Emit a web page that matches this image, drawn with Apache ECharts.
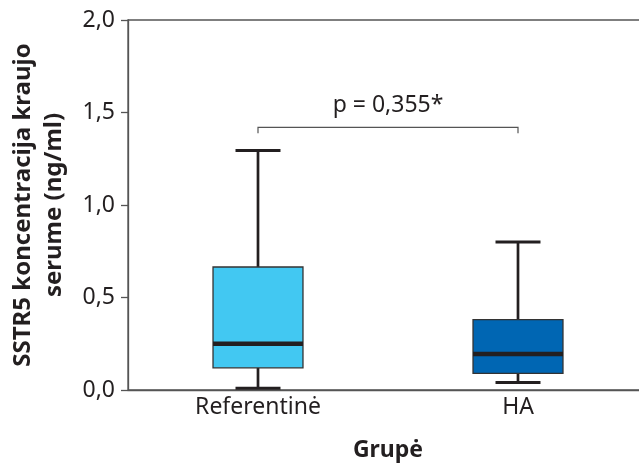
<!DOCTYPE html>
<html>
<head>
<meta charset="utf-8">
<script src="https://cdn.jsdelivr.net/npm/echarts@6/dist/echarts.min.js"></script>
<style>
html,body{margin:0;padding:0;background:#fff;}
#chart{width:639px;height:464px;}
</style>
</head>
<body>
<div id="chart"></div>
<script>
// ---- data ----
const categories = ['Referentinė', 'HA'];
const minVals    = [0.01, 0.04];
const q1Vals     = [0.12, 0.09];
const medianVals = [0.25, 0.195];
const q3Vals     = [0.665, 0.38];
const maxVals    = [1.295, 0.80];
const boxColors  = ['#42C8F2', '#0066B3'];
const yTicks     = [0, 0.5, 1.0, 1.5, 2.0];
const bracketLevel = 1.42;
const pLabel = 'p = 0,355*';

const FONT = '"Noto Sans", "Open Sans", sans-serif';
const TXT = '#231f20';
const AX = '#555555';

const boxData = categories.map((c, i) => [i, minVals[i], q1Vals[i], medianVals[i], q3Vals[i], maxVals[i]]);

function renderBox(params, api) {
  const i = api.value(0);
  const band = api.size([1, 0])[0];
  const cx = api.coord([i, 0])[0];
  const yMin = api.coord([i, api.value(1)])[1];
  const yQ1 = api.coord([i, api.value(2)])[1];
  const yMed = api.coord([i, api.value(3)])[1];
  const yQ3 = api.coord([i, api.value(4)])[1];
  const yMax = api.coord([i, api.value(5)])[1];
  const bw = band * 0.346;
  const cw = band * 0.173;
  const lineStyle = { stroke: TXT, lineWidth: 2.7 };
  return {
    type: 'group',
    children: [
      { type: 'line', shape: { x1: cx, y1: yQ3, x2: cx, y2: yMax }, style: lineStyle },
      { type: 'line', shape: { x1: cx, y1: yQ1, x2: cx, y2: yMin }, style: lineStyle },
      { type: 'line', shape: { x1: cx - cw / 2, y1: yMax, x2: cx + cw / 2, y2: yMax }, style: { stroke: TXT, lineWidth: 3 } },
      { type: 'line', shape: { x1: cx - cw / 2, y1: yMin, x2: cx + cw / 2, y2: yMin }, style: { stroke: TXT, lineWidth: 3 } },
      { type: 'rect', shape: { x: cx - bw / 2, y: yQ3, width: bw, height: yQ1 - yQ3 },
        style: { fill: boxColors[i], stroke: '#333333', lineWidth: 1.3 } },
      { type: 'line', shape: { x1: cx - bw / 2, y1: yMed, x2: cx + bw / 2, y2: yMed }, style: { stroke: TXT, lineWidth: 4.5 } }
    ]
  };
}

function renderBracket(params, api) {
  const p0 = api.coord([api.value(0), api.value(2)]);
  const p1 = api.coord([api.value(1), api.value(2)]);
  const tick = 6;
  const st = { stroke: AX, lineWidth: 1.2, fill: null };
  return {
    type: 'group',
    children: [
      { type: 'polyline', shape: { points: [[p0[0], p0[1] + tick], [p0[0], p0[1]], [p1[0], p1[1]], [p1[0], p1[1] + tick]] }, style: st },
      { type: 'text', x: (p0[0] + p1[0]) / 2, y: p0[1] - 22,
        style: { text: pLabel, fill: TXT, font: '23px ' + FONT, align: 'center', verticalAlign: 'middle' } }
    ]
  };
}

const chart = echarts.init(document.getElementById('chart'), null, { renderer: 'canvas' });
chart.setOption({
  animation: false,
  backgroundColor: '#ffffff',
  grid: { left: 128, top: 20, width: 520, height: 370, outerBoundsMode: 'none', containLabel: false,
    show: true, borderColor: AX, borderWidth: 1.3, backgroundColor: 'transparent' },
  xAxis: {
    type: 'category',
    data: categories,
    name: 'Grupė',
    nameLocation: 'middle',
    nameGap: 49,
    nameTextStyle: { fontFamily: FONT, fontSize: 23, fontWeight: 'bold', color: TXT },
    axisLine: { lineStyle: { color: AX, width: 1.3 } },
    axisTick: { length: 7, lineStyle: { color: AX, width: 1.3 } },
    axisLabel: { fontFamily: FONT, fontSize: 23, color: TXT, margin: 6 },
    splitLine: { show: false }
  },
  yAxis: {
    type: 'value',
    min: yTicks[0],
    max: yTicks[yTicks.length - 1],
    interval: 0.5,
    name: 'SSTR5 koncentracija kraujo\nserume (ng/ml)',
    nameLocation: 'middle',
    nameRotate: 90,
    nameGap: 58,
    nameTextStyle: { fontFamily: FONT, fontSize: 24, fontWeight: 'bold', color: TXT, lineHeight: 31 },
    axisLine: { show: true, lineStyle: { color: AX, width: 1.3 } },
    axisTick: { show: true, length: 7, lineStyle: { color: AX, width: 1.3 } },
    axisLabel: { fontFamily: FONT, fontSize: 23, color: TXT, margin: 13,
      formatter: v => v.toFixed(1).replace('.', ',') },
    splitLine: { show: false }
  },
  series: [
    { type: 'custom', renderItem: renderBox, data: boxData, encode: { x: 0, y: [1, 2, 3, 4, 5] }, z: 3 },
    { type: 'custom', renderItem: renderBracket, data: [[0, 1, bracketLevel]], encode: { x: [0, 1], y: 2 }, z: 4 }
  ]
});
</script>
</body>
</html>
